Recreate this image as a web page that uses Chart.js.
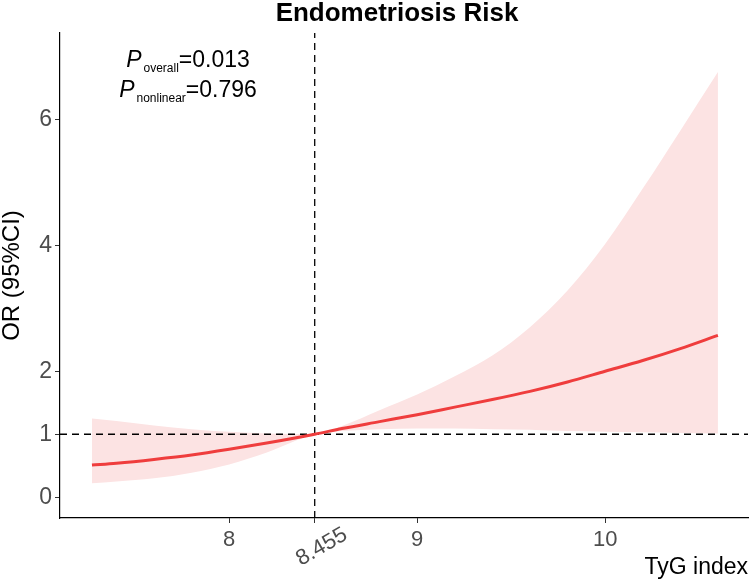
<!DOCTYPE html>
<html>
<head>
<meta charset="utf-8">
<script src="https://cdn.jsdelivr.net/npm/chart.js@4"></script>
<style>
  html, body { margin: 0; padding: 0; background: #fff; }
  #wrap { width: 751px; height: 585px; }
</style>
</head>
<body>
<div id="wrap"><canvas id="rcs"></canvas></div>
<script>
/* ============================================================
   RCS plot — TyG index vs endometriosis risk
   ============================================================ */

var FONT = '"Liberation Sans", Arial, Helvetica, sans-serif';

// data
var tygIndex = [7.27, 7.4, 7.6, 7.8, 8.0, 8.2, 8.455, 8.6, 8.8, 9.0, 9.2, 9.4, 9.6, 9.8, 10.0, 10.2, 10.4, 10.6];
var orValues = [0.51, 0.54, 0.60, 0.67, 0.76, 0.86, 1.00, 1.09, 1.20, 1.31, 1.43, 1.55, 1.68, 1.83, 2.00, 2.17, 2.36, 2.57];
var ciUpper  = [1.25, 1.21, 1.14, 1.08, 1.04, 1.01, 1.00, 1.13, 1.38, 1.63, 1.92, 2.25, 2.70, 3.28, 4.02, 4.90, 5.82, 6.75];
var ciLower  = [0.22, 0.25, 0.30, 0.39, 0.52, 0.71, 1.00, 1.05, 1.08, 1.09, 1.09, 1.08, 1.07, 1.05, 1.04, 1.03, 1.02, 1.01];

var xTicks = [8, 8.455, 9, 10];
var yTicks = [0, 1, 2, 4, 6];

var REF_X = 8.455;   // reference TyG (median)
var REF_OR = 1;      // null line
var X_MIN = 7.1, X_MAX = 10.76;
var Y_MIN = -0.33, Y_MAX = 7.37;

var chartTitle = 'Endometriosis Risk';
var pOverall = '0.013';
var pNonlinear = '0.796';

function pts(ys) {
  return tygIndex.map(function(x, i) { return { x: x, y: ys[i] }; });
}

var RED = '#EF3D3D';
var BAND = '#FCE3E3';

function drawPLine(ctx, sub, val, cx, baseline) {
  ctx.font = 'italic 23px ' + FONT;
  var wP = ctx.measureText('P').width;
  ctx.font = '12px ' + FONT;
  var wS = ctx.measureText(sub).width;
  ctx.font = '23px ' + FONT;
  var wV = ctx.measureText('=' + val).width;
  var x = cx - (wP + 2 + wS + wV) / 2;
  ctx.textAlign = 'left';
  ctx.textBaseline = 'alphabetic';
  ctx.font = 'italic 23px ' + FONT;
  ctx.fillText('P', x, baseline);
  ctx.font = '12px ' + FONT;
  ctx.fillText(sub, x + wP + 2, baseline + 5);
  ctx.font = '23px ' + FONT;
  ctx.fillText('=' + val, x + wP + 2 + wS, baseline);
}

var textPlugin = {
  id: 'rcsText',
  afterDraw: function(chart) {
    var ctx = chart.ctx;
    var xs = chart.scales.x;
    var area = chart.chartArea;
    ctx.save();
    ctx.fillStyle = '#000';

    // title
    ctx.font = 'bold 26px ' + FONT;
    ctx.textAlign = 'center';
    ctx.textBaseline = 'middle';
    ctx.fillText(chartTitle, (area.left + area.right) / 2 - 7, 14);

    // P values
    drawPLine(ctx, 'overall', pOverall, area.left + 128, 67);
    drawPLine(ctx, 'nonlinear', pNonlinear, area.left + 128, 97);

    // rotated label for the reference tick
    var px = xs.getPixelForValue(REF_X);
    ctx.translate(px + 7, xs.top + 29);
    ctx.rotate(-Math.PI / 6);
    ctx.font = '22px ' + FONT;
    ctx.fillStyle = '#4D4D4D';
    ctx.textAlign = 'center';
    ctx.textBaseline = 'middle';
    ctx.fillText(String(REF_X), 0, 0);
    ctx.restore();
  }
};

new Chart(document.getElementById('rcs').getContext('2d'), {
  type: 'line',
  data: {
    datasets: [
      { label: 'OR', data: pts(orValues), borderColor: RED, borderWidth: 3, pointRadius: 0, fill: false, cubicInterpolationMode: 'monotone', order: 0 },
      { label: 'ref-h', data: [{ x: X_MIN, y: REF_OR }, { x: X_MAX, y: REF_OR }], borderColor: '#000', borderWidth: 1.3, borderDash: [7, 5], pointRadius: 0, fill: false, order: 1 },
      { label: 'ref-v', data: [{ x: REF_X, y: Y_MIN }, { x: REF_X, y: Y_MAX }], borderColor: '#000', borderWidth: 1.3, borderDash: [7, 5], pointRadius: 0, fill: false, order: 1 },
      { label: 'lower', data: pts(ciLower), borderWidth: 0, borderColor: 'rgba(0,0,0,0)', pointRadius: 0, fill: false, cubicInterpolationMode: 'monotone', order: 3 },
      { label: 'upper', data: pts(ciUpper), borderWidth: 0, borderColor: 'rgba(0,0,0,0)', backgroundColor: BAND, pointRadius: 0, fill: 3, cubicInterpolationMode: 'monotone', order: 2 }
    ]
  },
  options: {
    responsive: true, maintainAspectRatio: false, animation: false,
    layout: { padding: { top: 33, left: 0, right: 3, bottom: 0 } },
    plugins: { legend: { display: false }, tooltip: { enabled: false } },
    scales: {
      x: {
        type: 'linear', min: X_MIN, max: X_MAX,
        afterBuildTicks: function(s) { s.ticks = xTicks.map(function(v) { return { value: v }; }); },
        afterFit: function(s) { s.height = 67; },
        ticks: {
          autoSkip: false, maxRotation: 0, minRotation: 0, padding: 4,
          color: '#4D4D4D', font: { family: FONT, size: 22 },
          callback: function(v) { return v === REF_X ? '' : v; }
        },
        grid: { drawOnChartArea: false, drawTicks: true, tickLength: 5, color: '#333' },
        border: { display: true, color: '#000', width: 1.2 },
        title: { display: true, text: 'TyG index', align: 'end', color: '#000', font: { family: FONT, size: 23 }, padding: { top: 0, bottom: 4 } }
      },
      y: {
        type: 'linear', min: Y_MIN, max: Y_MAX,
        afterBuildTicks: function(s) { s.ticks = yTicks.map(function(v) { return { value: v }; }); },
        afterFit: function(s) { s.width = 60; },
        ticks: { padding: 3, color: '#4D4D4D', font: { family: FONT, size: 23 } },
        grid: { drawOnChartArea: false, drawTicks: true, tickLength: 5, color: '#333' },
        border: { display: true, color: '#000', width: 1.2 },
        title: { display: true, text: 'OR (95%CI)', color: '#000', font: { family: FONT, size: 24, lineHeight: 1 }, padding: { top: 0, bottom: 0 } }
      }
    }
  },
  plugins: [textPlugin]
});
</script>
</body>
</html>
